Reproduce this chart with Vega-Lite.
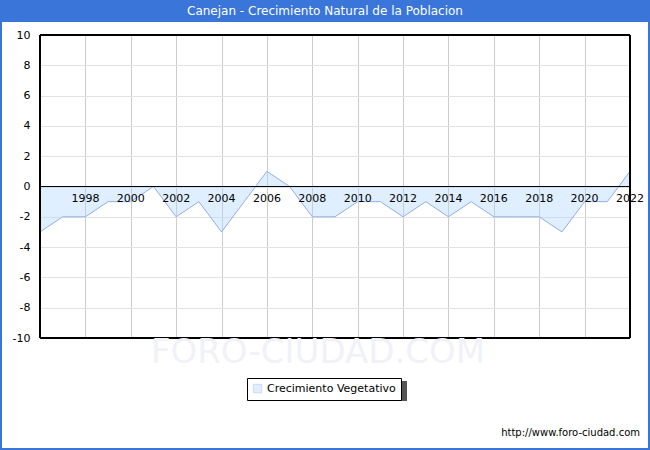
{
  "$schema": "https://vega.github.io/schema/vega-lite/v6.json",
  "autosize": "none",
  "width": 590,
  "height": 303,
  "padding": {"left": 40, "top": 35, "right": 20, "bottom": 112},
  "background": "white",
  "config": {
    "font": "DejaVu Sans",
    "view": {"stroke": null},
    "axis": {"labelOverlap": false, "labelFlush": false},
    "legend": {
      "orient": "none",
      "legendX": 207,
      "legendY": 343,
      "strokeColor": "black",
      "fillColor": "white",
      "padding": 5,
      "labelFont": "DejaVu Sans",
      "labelFontSize": 11,
      "labelColor": "black",
      "symbolType": "square",
      "symbolSize": 70,
      "symbolStrokeColor": "#7fa6e6",
      "symbolStrokeWidth": 1,
      "symbolFillColor": "#e0f0ff",
      "zindex": 2
    }
  },
  "data": {"values": [
    {"year": 1996, "value": -3},
    {"year": 1997, "value": -2},
    {"year": 1998, "value": -2},
    {"year": 1999, "value": -1},
    {"year": 2000, "value": -1},
    {"year": 2001, "value": 0},
    {"year": 2002, "value": -2},
    {"year": 2003, "value": -1},
    {"year": 2004, "value": -3},
    {"year": 2005, "value": -1},
    {"year": 2006, "value": 1},
    {"year": 2007, "value": 0},
    {"year": 2008, "value": -2},
    {"year": 2009, "value": -2},
    {"year": 2010, "value": -1},
    {"year": 2011, "value": -1},
    {"year": 2012, "value": -2},
    {"year": 2013, "value": -1},
    {"year": 2014, "value": -2},
    {"year": 2015, "value": -1},
    {"year": 2016, "value": -2},
    {"year": 2017, "value": -2},
    {"year": 2018, "value": -2},
    {"year": 2019, "value": -3},
    {"year": 2020, "value": -1},
    {"year": 2021, "value": -1},
    {"year": 2022, "value": 1}
  ]},
  "layer": [
    {
      "mark": {"type": "area", "interpolate": "linear", "opacity": 0.4},
      "encoding": {
        "x": {"field": "year", "type": "quantitative",
          "scale": {"domain": [1996, 2022], "nice": false, "zero": false},
          "axis": {"values": [1998, 2000, 2002, 2004, 2006, 2008, 2010, 2012, 2014, 2016, 2018, 2020, 2022],
            "tickCount": 20,
            "labels": false, "ticks": false, "domain": false, "title": null,
            "grid": true, "gridWidth": 1,
            "gridColor": {"condition": {"test": "datum.value == 2022", "value": "transparent"}, "value": "#cccccc"}}},
        "y": {"field": "value", "type": "quantitative",
          "scale": {"domain": [-10, 10], "nice": false},
          "axis": {"values": [-10, -8, -6, -4, -2, 0, 2, 4, 6, 8, 10], "title": null,
            "tickCount": 20,
            "labelExpr": "'' + datum.value", "labelOverlap": false,
            "ticks": false, "domain": false, "grid": true,
            "gridColor": {"condition": {"test": "abs(datum.value) == 10", "value": "transparent"}, "value": "#e2e2e2"},
            "labelFontSize": 11, "labelColor": "black", "labelPadding": 10}},
        "y2": {"datum": 0},
        "color": {"datum": "Crecimiento Vegetativo", "type": "nominal",
          "scale": {"range": ["#b0d8ff"]},
          "legend": {"title": null}}
      }
    },
    {
      "mark": {"type": "line", "color": "#8fb0e8", "strokeWidth": 1},
      "encoding": {
        "x": {"field": "year", "type": "quantitative"},
        "y": {"field": "value", "type": "quantitative"}
      }
    },
    {
      "mark": {"type": "rule", "color": "black", "strokeWidth": 1},
      "encoding": {"y": {"datum": 0}}
    },
    {
      "mark": {"type": "rect", "fill": null, "fillOpacity": 0, "stroke": "black", "strokeWidth": 1},
      "encoding": {"x": {"datum": 1996}, "x2": {"datum": 2022}, "y": {"datum": -10}, "y2": {"datum": 10}}
    },
    {
      "transform": [{"filter": "datum.year >= 1998 && datum.year % 2 == 0"}],
      "mark": {"type": "text", "fontSize": 11, "color": "black", "baseline": "middle", "dy": 12},
      "encoding": {
        "x": {"field": "year", "type": "quantitative"},
        "y": {"datum": 0},
        "text": {"field": "year", "type": "quantitative", "format": "d"}
      }
    },
    {
      "data": {"values": [{"t": "FORO-CIUDAD.COM"}]},
      "mark": {"type": "text", "fontSize": 34, "color": "#f1f1f9", "align": "center", "baseline": "middle"},
      "encoding": {"x": {"value": 278}, "y": {"value": 318}, "text": {"field": "t"}}
    },
    {
      "data": {"values": [{"t": "shadow"}]},
      "mark": {"type": "rect", "color": "#555555"},
      "encoding": {"x": {"value": 210}, "x2": {"value": 367}, "y": {"value": 346}, "y2": {"value": 366}}
    },
    {
      "data": {"values": [{"t": "http://www.foro-ciudad.com"}]},
      "mark": {"type": "text", "fontSize": 10, "color": "black", "align": "right", "baseline": "middle"},
      "encoding": {"x": {"value": 600}, "y": {"value": 398}, "text": {"field": "t"}}
    },
    {
      "data": {"values": [{"t": "bar"}]},
      "mark": {"type": "rect", "color": "#3a75d9"},
      "encoding": {"x": {"value": -40}, "x2": {"value": 610}, "y": {"value": -35}, "y2": {"value": -13}}
    },
    {
      "data": {"values": [{"t": "Canejan - Crecimiento Natural de la Poblacion"}]},
      "mark": {"type": "text", "fontSize": 12, "color": "white", "align": "center", "baseline": "middle"},
      "encoding": {"x": {"value": 285}, "y": {"value": -24}, "text": {"field": "t"}}
    },
    {
      "data": {"values": [{"t": "frame"}]},
      "mark": {"type": "rect", "fill": null, "fillOpacity": 0, "stroke": "#3a75d9", "strokeWidth": 2},
      "encoding": {"x": {"value": -39}, "x2": {"value": 609}, "y": {"value": -34}, "y2": {"value": 414}}
    }
  ]
}
